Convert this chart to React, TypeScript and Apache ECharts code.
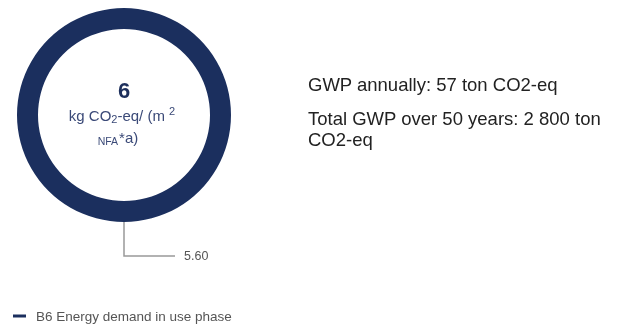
import React, { useEffect, useRef } from "react";
import * as echarts from "echarts";

const categories = ["B6 Energy demand in use phase"];
const values = [5.6];
const centerValue = "6";
const infoLines = ["GWP annually: 57 ton CO2-eq", "Total GWP over 50 years: 2 800 ton", "CO2-eq"];

export default function App() {
  const ref = useRef<HTMLDivElement>(null);
  useEffect(() => {
    const chart = echarts.init(ref.current!, null, { renderer: "svg" });
    const font = "'Liberation Sans', Arial, sans-serif";
    const unitColor = "#3b4a78";
    chart.setOption({
      animation: false,
      textStyle: { fontFamily: font },
      legend: {
        left: 13,
        top: 309,
        padding: 0,
        icon: "rect",
        itemWidth: 13,
        itemHeight: 3,
        itemStyle: { color: "#1b2f5e" },
        textStyle: { color: "#555", fontSize: 13.5, fontFamily: font, padding: [0, 0, 0, 5] },
        data: categories,
      },
      graphic: [
        {
          type: "text",
          x: 124,
          y: 90,
          style: {
            text: centerValue,
            fontSize: 22,
            fontWeight: "bold",
            fill: "#1d2f5c",
            fontFamily: font,
            align: "center",
            verticalAlign: "middle",
          },
        },
        {
          type: "text",
          x: 122,
          y: 115,
          style: {
            text: "{t|kg CO}{sub|2}{t|-eq/ (m }{sup|2}",
            fontFamily: font,
            align: "center",
            verticalAlign: "middle",
            rich: {
              t: { fontSize: 15, fill: unitColor, fontFamily: font, lineHeight: 19 },
              sub: { fontSize: 11, fill: unitColor, fontFamily: font, verticalAlign: "bottom", lineHeight: 12 },
              sup: { fontSize: 11, fill: unitColor, fontFamily: font, verticalAlign: "top", lineHeight: 12 },
            },
          },
        },
        {
          type: "text",
          x: 118,
          y: 137,
          style: {
            text: "{n|NFA}{t|*a)}",
            fontFamily: font,
            align: "center",
            verticalAlign: "middle",
            rich: {
              n: { fontSize: 10.5, fill: unitColor, fontFamily: font, verticalAlign: "bottom", lineHeight: 11, padding: [0, 1, 0, 0] },
              t: { fontSize: 15, fill: unitColor, fontFamily: font, lineHeight: 19 },
            },
          },
        },
        ...infoLines.map((t, i) => ({
          type: "text",
          x: 308,
          y: [84, 118, 139][i],
          style: {
            text: t,
            fontSize: 18.5,
            fill: "#222",
            fontFamily: font,
            verticalAlign: "middle",
          },
        })),
      ],
      series: [
        {
          type: "pie",
          name: "GWP",
          radius: [86, 107],
          center: [124, 115],
          startAngle: 90,
          clockwise: true,
          itemStyle: { color: "#1b2f5e" },
          emphasis: { disabled: true },
          label: {
            show: true,
            position: "outside",
            formatter: (p: any) => p.value.toFixed(2),
            color: "#555",
            fontSize: 12.5,
            fontFamily: font,
            padding: [0, 0, 0, 4],
          },
          labelLine: {
            show: true,
            length: 34,
            length2: 51,
            lineStyle: { color: "#999", width: 1.5 },
          },
          data: categories.map((c, i) => ({ name: c, value: values[i] })),
        },
      ],
    });
    return () => chart.dispose();
  }, []);
  return <div ref={ref} style={{ position: "fixed", left: 0, top: 0, width: 617, height: 325 }} />;
}
